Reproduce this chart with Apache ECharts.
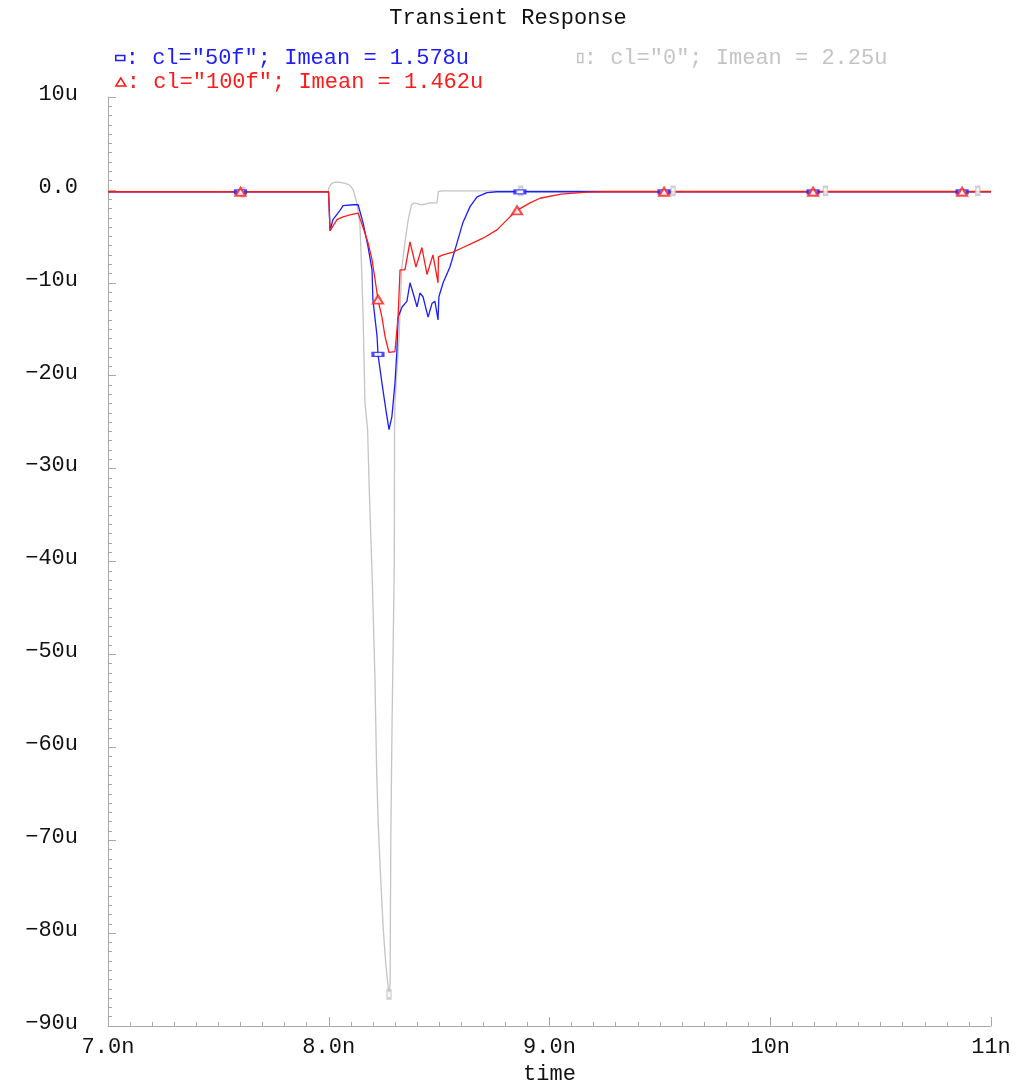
<!DOCTYPE html>
<html>
<head>
<meta charset="utf-8">
<title>Transient Response</title>
<script src="https://cdn.jsdelivr.net/npm/echarts@6/dist/echarts.min.js"></script>
<style>
  html, body { margin: 0; padding: 0; background: #ffffff; }
  #chart { width: 1016px; height: 1080px; }
</style>
</head>
<body>
<div id="chart"></div>
<script>
// Transient current waveforms for three load capacitances (time in ns, current in uA)

const seriesNames = ['cl="50f"', 'cl="100f"', 'cl="0"'];
const imeanText = ['1.578u', '1.462u', '2.25u'];

const xTickValues = [7, 8, 9, 10, 11];
const xTickLabels = ['7.0n', '8.0n', '9.0n', '10n', '11n'];
const yTickValues = [10, 0, -10, -20, -30, -40, -50, -60, -70, -80, -90];
const yTickLabels = ['10u', '0.0', '\u221210u', '\u221220u', '\u221230u', '\u221240u',
                     '\u221250u', '\u221260u', '\u221270u', '\u221280u', '\u221290u'];

// cl = 0
const grayCurve = [
  [7.0, -0.25], [7.998, -0.25], [8.000, 0.2], [8.013, 0.7], [8.030, 0.85], [8.051, 0.8],
  [8.075, 0.7], [8.096, 0.5], [8.111, 0.0], [8.127, -1.4], [8.141, -3.5], [8.149, -8.6],
  [8.156, -14.0], [8.164, -22.9], [8.176, -25.8], [8.183, -31.9], [8.197, -41.9],
  [8.209, -52.2], [8.217, -62.7], [8.224, -68.1], [8.235, -74.0], [8.247, -79.6],
  [8.259, -83.5], [8.270, -86.0], [8.273, -86.6], [8.278, -85.5], [8.281, -70.1],
  [8.287, -57.0], [8.290, -52.0], [8.297, -40.1], [8.298, -25.8], [8.300, -22.9],
  [8.309, -19.4], [8.319, -15.8], [8.330, -8.6], [8.345, -5.7], [8.360, -3.2],
  [8.375, -1.6], [8.386, -1.4], [8.422, -1.6], [8.459, -1.4], [8.490, -1.4],
  [8.497, -0.15], [8.518, -0.1], [11.0, -0.1]
];

// cl = 50f
const blueCurve = [
  [7.0, -0.2], [7.999, -0.2], [8.006, -4.4], [8.019, -3.2], [8.051, -2.2], [8.065, -1.7],
  [8.110, -1.6], [8.133, -1.6], [8.155, -3.5], [8.178, -6.1], [8.196, -8.6], [8.200, -11.8],
  [8.219, -15.8], [8.223, -17.7], [8.241, -20.8], [8.259, -23.7], [8.273, -25.8],
  [8.286, -24.4], [8.300, -20.8], [8.309, -17.2], [8.314, -13.7], [8.332, -12.6],
  [8.354, -12.0], [8.368, -10.0], [8.382, -11.1], [8.400, -12.6], [8.413, -11.1],
  [8.427, -11.5], [8.450, -13.7], [8.468, -12.2], [8.481, -12.0], [8.495, -14.0],
  [8.499, -11.5], [8.518, -10.0], [8.549, -8.3], [8.581, -5.7], [8.608, -3.5],
  [8.640, -1.8], [8.672, -0.75], [8.717, -0.3], [8.762, -0.2], [11.0, -0.2]
];

// cl = 100f
const redCurve = [
  [7.0, -0.2], [7.999, -0.2], [8.006, -4.4], [8.037, -3.2], [8.065, -2.9], [8.096, -2.7],
  [8.133, -2.5], [8.155, -4.0], [8.178, -5.7], [8.196, -7.5], [8.210, -9.7], [8.223, -11.8],
  [8.241, -13.7], [8.255, -15.8], [8.273, -17.5], [8.300, -17.4], [8.314, -13.7],
  [8.323, -8.6], [8.345, -8.6], [8.368, -5.6], [8.395, -8.3], [8.422, -6.2], [8.445, -9.1],
  [8.472, -7.0], [8.495, -10.0], [8.497, -7.2], [8.518, -7.0], [8.563, -6.7], [8.608, -6.2],
  [8.653, -5.7], [8.699, -5.2], [8.762, -4.3], [8.821, -2.9], [8.853, -2.2], [8.912, -1.4],
  [8.957, -0.9], [9.052, -0.45], [9.170, -0.25], [9.256, -0.2], [11.0, -0.2]
];

// marker positions along each waveform
const grayMarkers = [[7.61, -0.25], [8.273, -86.6], [8.87, -0.1], [9.56, -0.1], [10.25, -0.1], [10.94, -0.1]];
const blueMarkers = [[7.60, -0.2], [8.223, -17.7], [8.866, -0.2], [9.519, -0.2], [10.194, -0.2], [10.869, -0.2]];
const redMarkers  = [[7.60, -0.2], [8.223, -11.8], [8.853, -2.2], [9.519, -0.2], [10.194, -0.2], [10.869, -0.2]];

const FONT = '"Liberation Mono", "DejaVu Sans Mono", monospace';
const COLORS = { blue: '#1c1cff', red: '#ff1a1a', gray: '#c4c4c4' };

const chart = echarts.init(document.getElementById('chart'), null, { renderer: 'canvas' });

function legendFor(idx, color, icon, w, h, left, top) {
  return {
    data: [{ name: seriesNames[idx], icon: icon }],
    left: left, top: top,
    itemWidth: w, itemHeight: h, itemGap: 0,
    selectedMode: false,
    itemStyle: { borderWidth: 1.5, borderColor: color, color: '#ffffff' },
    textStyle: { color: color, fontFamily: FONT, fontSize: 22, padding: [0, 0, 0, -4] },
    formatter: name => ': ' + name + '; Imean = ' + imeanText[idx]
  };
}

const option = {
  backgroundColor: '#ffffff',
  animation: false,
  title: {
    text: 'Transient Response',
    left: 'center', top: 2,
    textStyle: { fontFamily: FONT, fontSize: 22, fontWeight: 'normal', color: '#111' }
  },
  legend: [
    legendFor(0, COLORS.blue, 'rect', 9, 5, 110, 42),
    legendFor(2, COLORS.gray, 'rect', 5, 9, 572, 42),
    legendFor(1, COLORS.red, 'triangle', 10, 8, 110, 66)
  ],
  grid: { left: 108, right: 25, top: 97, bottom: 54, outerBoundsMode: 'none', containLabel: false },
  xAxis: {
    type: 'value', min: 7, max: 11, interval: 1,
    name: 'time', nameLocation: 'middle', nameGap: 25,
    nameTextStyle: { fontFamily: FONT, fontSize: 22, color: '#111' },
    axisLine: { show: true, onZero: false, lineStyle: { color: '#a8a8a8', width: 1 } },
    axisTick: { show: true, inside: true, length: 9, lineStyle: { color: '#a8a8a8' } },
    minorTick: { show: true, splitNumber: 10, length: 4, lineStyle: { color: '#a8a8a8' } },
    splitLine: { show: false },
    axisLabel: {
      fontFamily: FONT, fontSize: 22, color: '#111', margin: 10,
      formatter: v => xTickLabels[xTickValues.indexOf(Math.round(v))]
    }
  },
  yAxis: {
    type: 'value', min: -90, max: 10, interval: 10,
    axisLine: { show: true, onZero: false, lineStyle: { color: '#a8a8a8', width: 1 } },
    axisTick: { show: true, inside: true, length: 8, lineStyle: { color: '#a8a8a8' } },
    minorTick: { show: true, splitNumber: 10, length: 4, lineStyle: { color: '#a8a8a8' } },
    splitLine: { show: false },
    axisLabel: {
      fontFamily: FONT, fontSize: 22, color: '#111', margin: 30,
      verticalAlign: 'bottom', lineHeight: 22, padding: [0, 0, -8, 0],
      formatter: v => yTickLabels[yTickValues.indexOf(Math.round(v))]
    }
  },
  series: [
    {
      name: seriesNames[2], type: 'line', data: grayCurve, showSymbol: false, z: 2,
      lineStyle: { color: COLORS.gray, width: 1.3 }, itemStyle: { color: COLORS.gray }
    },
    {
      name: seriesNames[0], type: 'line', data: blueCurve, showSymbol: false, z: 3,
      lineStyle: { color: COLORS.blue, width: 1.3 }, itemStyle: { color: COLORS.blue }
    },
    {
      name: seriesNames[1], type: 'line', data: redCurve, showSymbol: false, z: 4,
      lineStyle: { color: COLORS.red, width: 1.3 }, itemStyle: { color: COLORS.red }
    },
    {
      name: seriesNames[2], type: 'scatter', data: grayMarkers, z: 5,
      symbol: 'emptyRect', symbolSize: [4, 8],
      itemStyle: { color: COLORS.gray, borderColor: COLORS.gray, borderWidth: 1.5 }
    },
    {
      name: seriesNames[0], type: 'scatter', data: blueMarkers, z: 6,
      symbol: 'emptyRect', symbolSize: [10, 4],
      itemStyle: { color: COLORS.blue, borderColor: COLORS.blue, borderWidth: 1.5 }
    },
    {
      name: seriesNames[1], type: 'scatter', data: redMarkers, z: 7,
      symbol: 'emptyTriangle', symbolSize: [10, 8],
      itemStyle: { color: COLORS.red, borderColor: COLORS.red, borderWidth: 1.5 }
    }
  ]
};

chart.setOption(option);
</script>
</body>
</html>
